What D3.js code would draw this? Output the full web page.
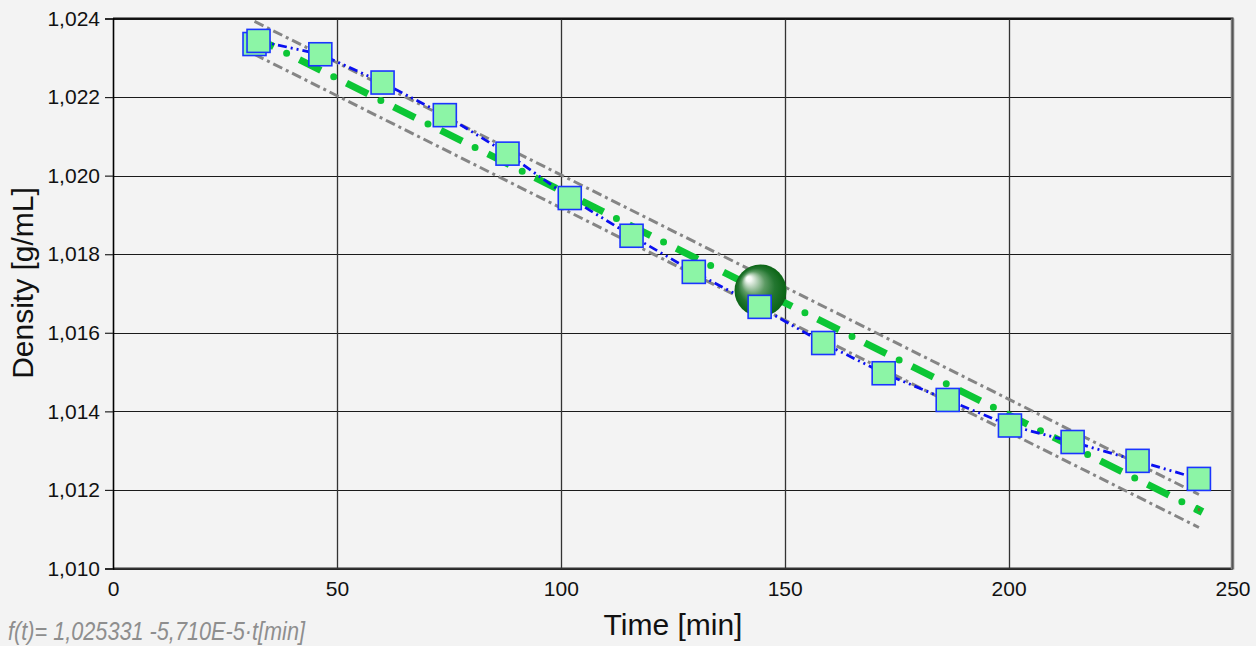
<!DOCTYPE html>
<html>
<head>
<meta charset="utf-8">
<script src="https://cdn.jsdelivr.net/npm/d3@7"></script>
<style>
  html, body { margin: 0; padding: 0; background: #f3f3f3; }
  svg { display: block; }
  text { font-family: "Liberation Sans", Arial, sans-serif; }
</style>
</head>
<body>
<svg id="chart" width="1256" height="646"></svg>
<script>
// ---- data ----
const times   = [31.6, 32.5, 46.3, 60.2, 74.1, 88.1, 102.0, 115.8, 129.7, 144.4, 158.6, 172.1, 186.4, 200.3, 214.3, 228.8, 242.5];
const density = [1.02335, 1.02343, 1.02309, 1.02237, 1.02154, 1.02056, 1.01943, 1.01847, 1.01755, 1.01666, 1.01574, 1.01497, 1.01429, 1.01364, 1.01322, 1.01274, 1.01228];
const fitIntercept = 1.025331;
const fitSlope = -5.710e-5;
const bandUpperOffset = 0.00040;
const bandLowerOffset = -0.00044;
const centroidTime = 144.6;
const xTicks = [0, 50, 100, 150, 200, 250];
const yTicks = [1.010, 1.012, 1.014, 1.016, 1.018, 1.020, 1.022, 1.024];
const xTitle = "Time [min]";
const yTitle = "Density [g/mL]";
const formulaText = "f(t)= 1,025331 -5,710E-5\u00B7t[min]";

// ---- layout ----
const svg = d3.select("#chart");
const W = 1256, H = 646;
const x = d3.scaleLinear().domain([0, 250]).range([113, 1232.5]);
const y = d3.scaleLinear().domain([1.010, 1.024]).range([568.5, 18.5]);
const fmtY = v => d3.format(".3f")(v).replace(".", ",");
const fit = t => fitIntercept + fitSlope * t;

svg.append("rect").attr("width", W).attr("height", H).attr("fill", "#f3f3f3");

// gridlines
const grid = svg.append("g");
grid.selectAll("line.h").data(yTicks).join("line")
  .attr("x1", x(0)).attr("x2", x(250))
  .attr("y1", d => Math.round(y(d)) + 0.5).attr("y2", d => Math.round(y(d)) + 0.5)
  .attr("stroke", "#1a1a1a").attr("stroke-width", 1);
grid.selectAll("line.v").data(xTicks.slice(1, -1)).join("line")
  .attr("x1", d => Math.round(x(d)) + 0.5).attr("x2", d => Math.round(x(d)) + 0.5)
  .attr("y1", y(1.024)).attr("y2", y(1.010))
  .attr("stroke", "#333").attr("stroke-width", 1.3);

// frame
svg.append("line").attr("x1", x(0)).attr("x2", x(250) + 1).attr("y1", y(1.024)).attr("y2", y(1.024))
  .attr("stroke", "#111").attr("stroke-width", 2);
svg.append("line").attr("x1", x(0)).attr("x2", x(250)).attr("y1", y(1.010)).attr("y2", y(1.010))
  .attr("stroke", "#333").attr("stroke-width", 2.2);
svg.append("line").attr("x1", x(250)).attr("x2", x(250)).attr("y1", y(1.024)).attr("y2", y(1.010) + 1)
  .attr("stroke", "#7a7a7a").attr("stroke-width", 3.5);
svg.append("line").attr("x1", x(250)).attr("x2", x(250)).attr("y1", y(1.024)).attr("y2", y(1.010) + 1)
  .attr("stroke", "#555").attr("stroke-width", 1);

// axes
const yAxis = svg.append("g").attr("transform", `translate(${x(0)},0)`)
  .call(d3.axisLeft(y).tickValues(yTicks).tickSize(8).tickPadding(5).tickFormat(fmtY));
yAxis.select(".domain").attr("stroke", "#000").attr("stroke-width", 1.6);
yAxis.selectAll(".tick line").attr("stroke", "#222").attr("stroke-width", 1.2);
yAxis.selectAll("text").attr("font-size", 21).attr("fill", "#111");

const xAxis = svg.append("g").attr("transform", `translate(0,${y(1.010)})`)
  .call(d3.axisBottom(x).tickValues(xTicks).tickSize(0).tickPadding(13).tickFormat(d3.format("d")));
xAxis.select(".domain").remove();
xAxis.selectAll("text").attr("font-size", 21).attr("fill", "#111");

// titles
svg.append("text").attr("x", 673).attr("y", 635).attr("text-anchor", "middle")
  .attr("font-size", 30).attr("fill", "#111").text(xTitle);
svg.append("text").attr("transform", `translate(33,283) rotate(-90)`).attr("text-anchor", "middle")
  .attr("font-size", 30).attr("fill", "#111").text(yTitle);
svg.append("text").attr("x", 8).attr("y", 640).attr("font-size", 25).attr("font-style", "italic")
  .attr("fill", "#8e8e8e").attr("textLength", 297).attr("lengthAdjust", "spacingAndGlyphs").text(formulaText);

// lines
const tStart = d3.min(times), tEnd = d3.max(times);
const lineGen = d3.line().x(d => x(d[0])).y(d => y(d[1]));

const bands = [bandUpperOffset, bandLowerOffset];
svg.append("g").selectAll("path").data(bands).join("path")
  .attr("d", off => lineGen([[tStart, fit(tStart) + off], [tEnd, fit(tEnd) + off]]))
  .attr("fill", "none").attr("stroke", "#858585").attr("stroke-width", 3)
  .attr("stroke-dasharray", "10,4,3,4");

const fitPts = [[tStart, fit(tStart)], [tEnd, fit(tEnd)]];
svg.append("path").attr("d", lineGen(fitPts))
  .attr("fill", "none").attr("stroke", "#0cc635").attr("stroke-width", 7)
  .attr("stroke-dasharray", "24,28.7").attr("stroke-dashoffset", 2.5);
svg.append("path").attr("d", lineGen(fitPts))
  .attr("fill", "none").attr("stroke", "#0cc635").attr("stroke-width", 7)
  .attr("stroke-linecap", "round")
  .attr("stroke-dasharray", "0,52.7").attr("stroke-dashoffset", 16.8);

// end marker of fit
const ex = x(tEnd), ey = y(fit(tEnd));
svg.append("rect").attr("x", ex - 4).attr("y", ey - 4).attr("width", 8).attr("height", 8)
  .attr("fill", "#0cc635").attr("transform", `rotate(27,${ex},${ey})`);
svg.append("line").attr("x1", ex).attr("x2", ex).attr("y1", ey - 2).attr("y2", ey + 1)
  .attr("stroke", "#e02020").attr("stroke-width", 1);

// data connecting line
const pts = times.map((t, i) => [t, density[i]]);
svg.append("path").attr("d", lineGen(pts))
  .attr("fill", "none").attr("stroke", "#0a0ff0").attr("stroke-width", 2.8)
  .attr("stroke-dasharray", "9,4,2,4,2,4");

// centroid sphere
const defs = svg.append("defs");
const grad = defs.append("radialGradient").attr("id", "sph")
  .attr("cx", "0.5").attr("cy", "0.5").attr("r", "0.5").attr("fx", "0.25").attr("fy", "0.25");
[[0, "#ffffff"], [0.1, "#f4f8f4"], [0.25, "#b3d0b6"], [0.45, "#5c9a63"], [0.7, "#237630"], [1, "#0a6414"]]
  .forEach(([o, c]) => grad.append("stop").attr("offset", o).attr("stop-color", c));
svg.append("circle").attr("cx", x(centroidTime)).attr("cy", y(fit(centroidTime))).attr("r", 26)
  .attr("fill", "url(#sph)");

// squares
const S = 23;
svg.append("g").selectAll("rect").data(pts).join("rect")
  .attr("x", d => x(d[0]) - S / 2).attr("y", d => y(d[1]) - S / 2)
  .attr("width", S).attr("height", S)
  .attr("fill", "#8cf5a6").attr("stroke", "#1a35ff").attr("stroke-width", 1.6);
</script>
</body>
</html>
